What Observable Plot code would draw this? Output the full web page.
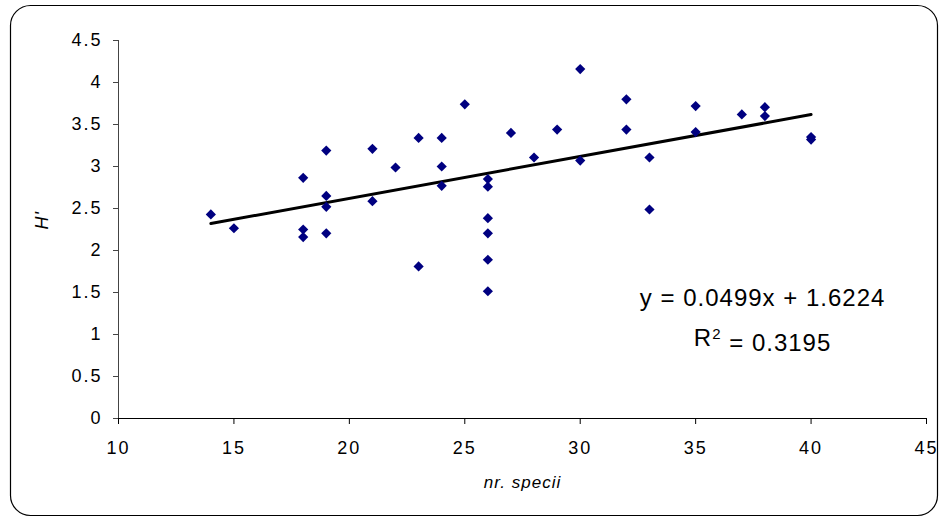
<!DOCTYPE html>
<html><head><meta charset="utf-8">
<script src="https://cdn.jsdelivr.net/npm/d3@7"></script>
<script src="https://cdn.jsdelivr.net/npm/@observablehq/plot@0.6"></script>
<style>
html,body{margin:0;padding:0;background:#fff;}
#chart{position:relative;width:943px;height:521px;}
#chart svg{display:block;}
</style></head><body><div id="chart"></div>
<script>
// number of species (x) and Shannon diversity H' (y)
const nrSpecii = [14,15,18,18,18,19,19,19,19,21,21,22,23,23,24,24,24,25,26,26,26,26,26,26,27,28,29,30,30,32,32,33,33,35,35,37,38,38,40,40];
const hPrime   = [2.43,2.265,2.865,2.25,2.16,3.19,2.65,2.52,2.205,3.21,2.587,2.988,3.34,1.81,3.34,3.00,2.77,3.74,2.85,2.76,2.385,2.205,1.89,1.515,3.40,3.107,3.44,4.16,3.07,3.80,3.44,3.107,2.488,3.72,3.41,3.62,3.706,3.60,3.35,3.32];
const xTicks = [10,15,20,25,30,35,40,45];
const yTicks = [0,0.5,1,1.5,2,2.5,3,3.5,4,4.5];
const slope = 0.0499;
const intercept = 1.6224;
const rSquared = 0.3195;
const xLabel = "nr. specii";
const yLabel = "H'";

const points = nrSpecii.map((x, i) => ({x, y: hPrime[i]}));
const trend = d3.extent(nrSpecii).map(x => ({x, y: intercept + slope * x}));
const eqLines = [
  {text: `y = ${slope}x + ${intercept}`, x: 37.9, y: 1.43},
  {text: `R2 = ${rSquared}`, x: 37.9, y: 0.95}
];

const svg = Plot.plot({
  width: 943, height: 521,
  marginLeft: 118, marginRight: 17, marginTop: 40, marginBottom: 103,
  style: {fontFamily: "'Liberation Sans', Arial, sans-serif", fontSize: "17px", color: "#000", background: "transparent", letterSpacing: "1px"},
  x: {domain: [10, 45]},
  y: {domain: [0, 4.5]},
  marks: [
    Plot.axisY({ticks: yTicks, tickSize: 5, tickPadding: 11, fontSize: 18, tickFormat: d => String(d), label: null, stroke: "#444"}),
    Plot.axisX({ticks: xTicks, tickSize: 6, tickPadding: 17, fontSize: 18, tickFormat: d => String(d), label: null}),
    Plot.ruleX([10], {stroke: "#444"}),
    Plot.ruleY([0], {stroke: "#000", x1: 10, x2: 45}),
    Plot.line(trend, {x: "x", y: "y", stroke: "#000", strokeWidth: 3}),
    Plot.dot(points, {x: "x", y: "y", symbol: "diamond2", r: 4.6, fill: "#000080", stroke: "none"}),
    Plot.text(eqLines, {x: "x", y: "y", text: "text", fontSize: 24, fill: "#000", textAnchor: "middle"}),
    Plot.text([xLabel], {frameAnchor: "bottom", dy: 69, fontSize: 17, fontStyle: "italic", fill: "#000"}),
    Plot.text([yLabel], {frameAnchor: "left", dx: -76, rotate: -90, fontSize: 18, fontStyle: "italic", fill: "#000"})
  ]
});

// wider tick labels
d3.select(svg).selectAll("g[aria-label='x-axis tick label'] text, g[aria-label='y-axis tick label'] text")
  .style("letter-spacing", "2px");

// superscript for R²
d3.select(svg).selectAll("text").each(function() {
  const t = this.textContent;
  if (t.startsWith("R2 = ")) {
    const el = d3.select(this);
    el.text(null);
    el.append("tspan").text("R");
    el.append("tspan").attr("dy", "-0.5em").attr("font-size", "15px").text("2");
    el.append("tspan").attr("dy", "0.5em").text(t.slice(2));
  }
});

d3.select(svg).insert("rect", ":first-child")
  .attr("x", 10.5).attr("y", 5.5).attr("width", 927).attr("height", 510)
  .attr("rx", 20).attr("ry", 20)
  .attr("fill", "none").attr("stroke", "#000").attr("stroke-width", 1.2);

document.getElementById("chart").appendChild(svg);
</script>
</body></html>
